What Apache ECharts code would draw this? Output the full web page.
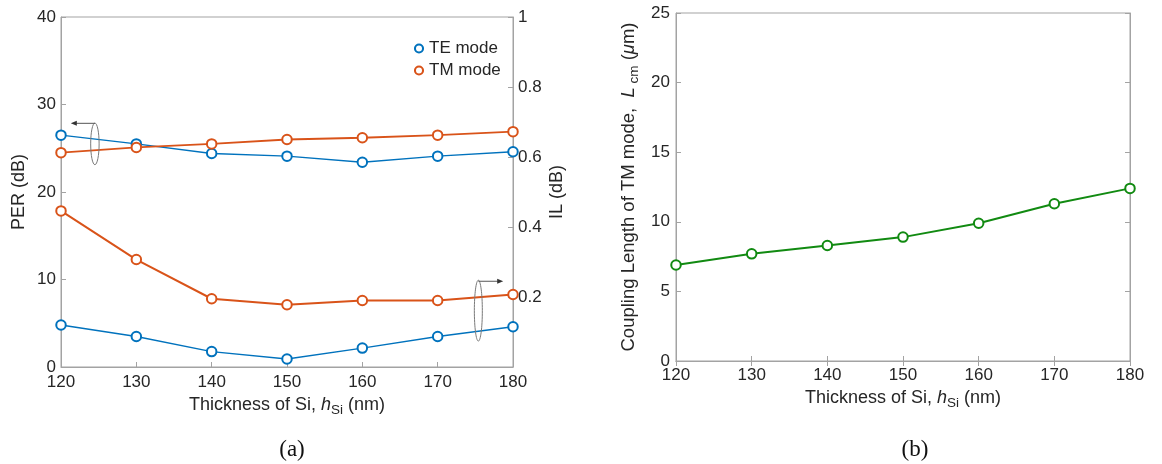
<!DOCTYPE html>
<html>
<head>
<meta charset="utf-8">
<script src="https://cdn.jsdelivr.net/npm/echarts@6/dist/echarts.min.js"></script>
<style>
html,body{margin:0;padding:0;background:#fff;}
#c{width:1162px;height:464px;}
</style>
</head>
<body>
<div id="c"></div>
<script>
// ---- data ----
const thickness = [120, 130, 140, 150, 160, 170, 180];
const perTE = [26.5, 25.5, 24.4, 24.1, 23.4, 24.1, 24.6];
const perTM = [24.5, 25.1, 25.5, 26.0, 26.2, 26.5, 26.9];
const ilTE = [0.120, 0.087, 0.044, 0.023, 0.054, 0.087, 0.115];
const ilTM = [0.446, 0.307, 0.195, 0.178, 0.190, 0.190, 0.207];
const couplingTM = [6.9, 7.7, 8.3, 8.9, 9.9, 11.3, 12.4];
const perTicks = [0, 10, 20, 30, 40];
const ilTicks = [0, 0.2, 0.4, 0.6, 0.8, 1];
const lcTicks = [0, 5, 10, 15, 20, 25];

const pairs = (xs, ys) => xs.map((x, i) => [x, ys[i]]);

const FONT = 'Liberation Sans, Arial, sans-serif';
const TXT = '#262626';
const AX = '#a3a3a3';
const BLUE = '#0072BD', ORANGE = '#D95319', GREEN = '#118a11';

const axisLine = {show: true, lineStyle: {color: AX, width: 1}};
const tickIn = {show: true, inside: true, length: 5, lineStyle: {color: AX}};
const lbl = {color: TXT, fontSize: 17, fontFamily: FONT};
const xName = 'Thickness of Si, {i|h}{sub|Si} (nm)';
const nameStyle = {
  color: TXT, fontSize: 18, fontFamily: FONT,
  rich: {
    i: {fontStyle: 'italic', fontSize: 18, fontFamily: FONT, color: TXT},
    sub: {fontSize: 13.5, fontFamily: FONT, color: TXT, padding: [10, 0, 0, 0]}
  }
};

function lineSeries(name, xs, ys, color, xi, yi, w) {
  return {
    name: name, type: 'line', xAxisIndex: xi, yAxisIndex: yi,
    data: pairs(xs, ys), symbol: 'emptyCircle', symbolSize: 9.5,
    color: color,
    lineStyle: {color: color, width: w},
    itemStyle: {color: color, borderColor: color, borderWidth: 1.8},
    emphasis: {disabled: true}, z: 3
  };
}

const option = {
  animation: false,
  backgroundColor: '#fff',
  grid: [
    {left: 61, right: 649, top: 17, bottom: 97, show: true, borderColor: AX, borderWidth: 1, containLabel: false},
    {left: 676, right: 32, top: 13, bottom: 103, show: true, borderColor: AX, borderWidth: 1, containLabel: false}
  ],
  legend: {
    data: ['TE mode', 'TM mode'],
    orient: 'vertical', left: 408, top: 35, itemGap: 5,
    itemWidth: 10, itemHeight: 10,
    textStyle: {color: TXT, fontSize: 17, fontFamily: FONT},
    selectedMode: false
  },
  xAxis: [
    {gridIndex: 0, type: 'value', min: 120, max: 180, interval: 10,
     axisLine: axisLine, axisTick: tickIn, splitLine: {show: false},
     axisLabel: Object.assign({margin: 7}, lbl),
     name: xName, nameLocation: 'middle', nameGap: 24, nameTextStyle: nameStyle},
    {gridIndex: 1, type: 'value', min: 120, max: 180, interval: 10,
     axisLine: axisLine, axisTick: tickIn, splitLine: {show: false},
     axisLabel: Object.assign({margin: 6}, lbl),
     name: xName, nameLocation: 'middle', nameGap: 23, nameTextStyle: nameStyle},
    {gridIndex: 1, type: 'value', position: 'top', min: 120, max: 180, interval: 10,
     axisLine: axisLine, axisTick: tickIn, splitLine: {show: false}, axisLabel: {show: false}}
  ],
  yAxis: [
    {gridIndex: 0, type: 'value', min: perTicks[0], max: perTicks[perTicks.length - 1], interval: 10,
     axisLine: axisLine, axisTick: tickIn, splitLine: {show: false},
     axisLabel: Object.assign({margin: 5}, lbl),
     name: 'PER (dB)', nameLocation: 'middle', nameGap: 33, nameRotate: 90,
     nameTextStyle: {color: TXT, fontSize: 18, fontFamily: FONT}},
    {gridIndex: 0, type: 'value', position: 'right', min: ilTicks[0], max: ilTicks[ilTicks.length - 1], interval: 0.2,
     axisLine: axisLine, axisTick: tickIn, splitLine: {show: false},
     axisLabel: Object.assign({margin: 5, formatter: v => (v === 0 ? '' : String(+v.toFixed(1)))}, lbl),
     name: 'IL (dB)', nameLocation: 'middle', nameGap: 35, nameRotate: 90,
     nameTextStyle: {color: TXT, fontSize: 18, fontFamily: FONT}},
    {gridIndex: 1, type: 'value', min: lcTicks[0], max: lcTicks[lcTicks.length - 1], interval: 5,
     axisLine: axisLine, axisTick: tickIn, splitLine: {show: false},
     axisLabel: Object.assign({margin: 6}, lbl),
     name: 'Coupling Length of TM mode,  {i|L}{sub| cm} ({i|\u03bc}m)', nameLocation: 'middle', nameGap: 35, nameRotate: 90,
     nameTextStyle: {
       color: TXT, fontSize: 18.5, fontFamily: FONT,
       rich: {
         i: {fontStyle: 'italic', fontSize: 18.5, fontFamily: FONT, color: TXT},
         sub: {fontSize: 13.5, fontFamily: FONT, color: TXT, padding: [10, 0, 0, 0]}
       }
     }},
    {gridIndex: 1, type: 'value', position: 'right', min: 0, max: 25, interval: 5,
     axisLine: axisLine, axisTick: tickIn, splitLine: {show: false}, axisLabel: {show: false}}
  ],
  series: [
    lineSeries('TE mode', thickness, perTE, BLUE, 0, 0, 1.5),
    lineSeries('TM mode', thickness, perTM, ORANGE, 0, 0, 1.8),
    lineSeries('TE mode', thickness, ilTE, BLUE, 0, 1, 1.4),
    lineSeries('TM mode', thickness, ilTM, ORANGE, 0, 1, 2),
    lineSeries('Lcm', thickness, couplingTM, GREEN, 1, 2, 2)
  ]
};

const chart = echarts.init(document.getElementById('c'), null, {renderer: 'canvas'});
chart.setOption(option);

// annotations: ellipses with arrows (anchored in data coordinates)
function px(seriesIndex, x, y) { return chart.convertToPixel({seriesIndex: seriesIndex}, [x, y]); }
function annot(si, cxD, cyD, halfWD, halfHD, arrowYD, arrowEndXD) {
  const c = px(si, cxD, cyD);
  const e = px(si, cxD + halfWD, cyD + halfHD);
  const a0 = px(si, cxD, arrowYD);
  const a1 = px(si, arrowEndXD, arrowYD);
  const rx = Math.abs(e[0] - c[0]), ry = Math.abs(c[1] - e[1]);
  const dir = a1[0] < a0[0] ? -1 : 1;
  return [
    {type: 'ellipse', shape: {cx: c[0], cy: c[1], rx: rx, ry: ry},
     style: {fill: null, stroke: '#7a7a7a', lineWidth: 1}, z: 10},
    {type: 'line', shape: {x1: a0[0], y1: a0[1], x2: a1[0] - dir * 4, y2: a1[1]},
     style: {stroke: '#555', lineWidth: 1}, z: 10},
    {type: 'polygon', shape: {points: [[a1[0], a1[1]], [a1[0] - dir * 6, a1[1] - 2.5], [a1[0] - dir * 6, a1[1] + 2.5]]},
     style: {fill: '#333'}, z: 10}
  ];
}
const g = [].concat(
  annot(0, 124.5, 25.5, 0.56, 2.38, 27.85, 121.3),
  annot(2, 175.4, 0.161, 0.53, 0.087, 0.245, 178.7),
  [
    {type: 'text', x: 292, y: 450, style: {text: '(a)', font: '23px "Liberation Serif", "Times New Roman", serif', fill: '#111', textAlign: 'center', textVerticalAlign: 'middle'}},
    {type: 'text', x: 915, y: 450, style: {text: '(b)', font: '23px "Liberation Serif", "Times New Roman", serif', fill: '#111', textAlign: 'center', textVerticalAlign: 'middle'}}
  ]
);
chart.setOption({graphic: g});
</script>
</body>
</html>
